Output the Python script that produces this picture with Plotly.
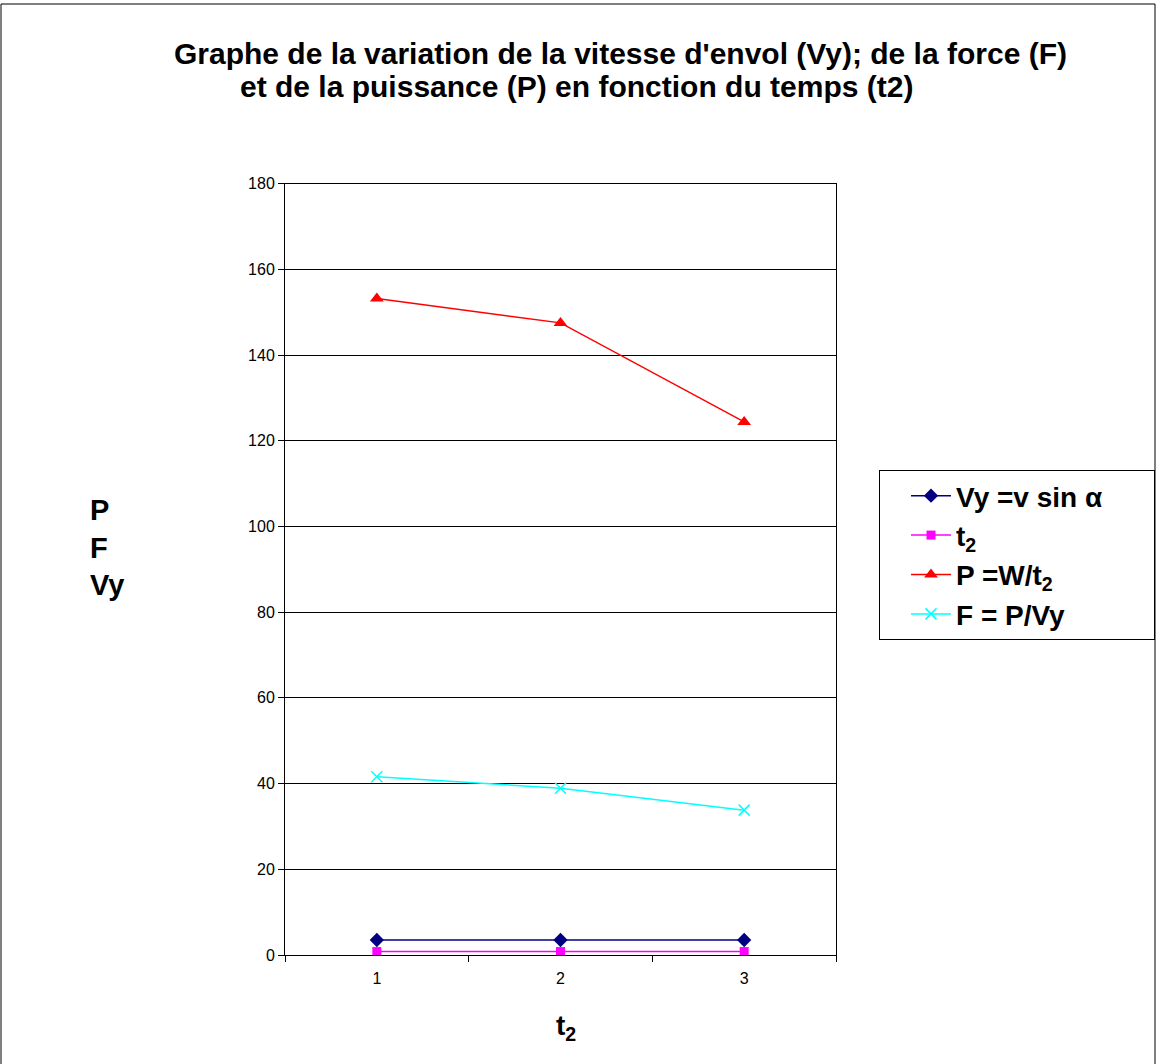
import plotly.graph_objects as go

categories = ["1", "2", "3"]
vy_values = [3.5, 3.5, 3.5]
t2_values = [0.8, 0.8, 0.8]
p_values = [153.2, 147.5, 124.4]
f_values = [41.6, 38.9, 33.8]

W, H = 1157, 1064
x0, x1 = 285, 836
y0, y1 = 183.6, 955

FONT = "Liberation Sans, Arial, sans-serif"

fig = go.Figure()
fig.add_trace(go.Scatter(x=categories, y=vy_values, name="Vy =v sin α&nbsp;&nbsp;&nbsp;&nbsp;&nbsp;&nbsp;", mode="lines+markers",
                         line=dict(color="#000080", width=1.5),
                         marker=dict(symbol="diamond", size=11, color="#000080")))
fig.add_trace(go.Scatter(x=categories, y=t2_values, name="t<sub>2</sub>", mode="lines+markers",
                         line=dict(color="#FF00FF", width=1.5),
                         marker=dict(symbol="square", size=9, color="#FF00FF")))
fig.add_trace(go.Scatter(x=categories, y=p_values, name="P =W/t<sub>2</sub>", mode="lines+markers",
                         line=dict(color="#FF0000", width=1.5),
                         marker=dict(symbol="triangle-up", size=12, color="#FF0000")))
fig.add_trace(go.Scatter(x=categories, y=f_values, name="F = P/Vy", mode="lines+markers",
                         line=dict(color="#00FFFF", width=1.5),
                         marker=dict(symbol="x-thin", size=11, color="#00FFFF",
                                     line=dict(color="#00FFFF", width=1.5))))

fig.update_layout(
    width=W, height=H,
    margin=dict(l=0, r=0, t=0, b=0, pad=0),
    paper_bgcolor="white", plot_bgcolor="white",
    font=dict(family=FONT, color="black"),
    xaxis=dict(type="category", domain=[x0 / W, x1 / W], range=[-0.5, 2.5],
               tickson="boundaries", automargin=False, ticklabelstandoff=9,
               ticks="outside", ticklen=6, tickcolor="black", showgrid=False,
               showline=True, linecolor="black", linewidth=1, mirror=True,
               tickfont=dict(size=16), zeroline=False),
    yaxis=dict(domain=[(H - y1) / H, (H - y0) / H], range=[0, 180], dtick=20,
               automargin=False,
               ticks="outside", ticklen=6, tickcolor="black",
               showgrid=True, gridcolor="black", gridwidth=1,
               showline=True, linecolor="black", linewidth=1, mirror=True,
               tickfont=dict(size=16), zeroline=False),
    legend=dict(x=879 / W, y=1 - 470 / H, xanchor="left", yanchor="top",
                bordercolor="black", borderwidth=1, bgcolor="white",
                font=dict(size=28, family=FONT, weight="bold"),
                tracegroupgap=0, itemwidth=40, indentation=26),
    showlegend=True,
)

fig.add_annotation(text="<b>Graphe de la variation de la vitesse d'envol (Vy); de la force (F)</b>",
                   xref="paper", yref="paper", x=620 / W, y=1 - 53 / H, showarrow=False,
                   xanchor="center", yanchor="middle", font=dict(size=30))
fig.add_annotation(text="<b>et de la puissance (P) en fonction du temps (t2)</b>",
                   xref="paper", yref="paper", x=576 / W, y=1 - 87 / H, showarrow=False,
                   xanchor="center", yanchor="middle", font=dict(size=30))
fig.add_annotation(text="<b>P<br>F<br>Vy</b>", xref="paper", yref="paper",
                   x=88 / W, y=1 - 547 / H, showarrow=False, align="left",
                   xanchor="left", yanchor="middle", font=dict(size=29))
fig.add_annotation(text="<b>t<sub>2</sub></b>", xref="paper", yref="paper",
                   x=566 / W, y=1 - 1027 / H, showarrow=False,
                   xanchor="center", yanchor="middle", font=dict(size=28))
fig.add_shape(type="rect", xref="paper", yref="paper", x0=1 / W, x1=1 - 2 / W,
              y0=-0.01, y1=1 - 4 / H, line=dict(color="black", width=1))

fig.write_html("out.html")
